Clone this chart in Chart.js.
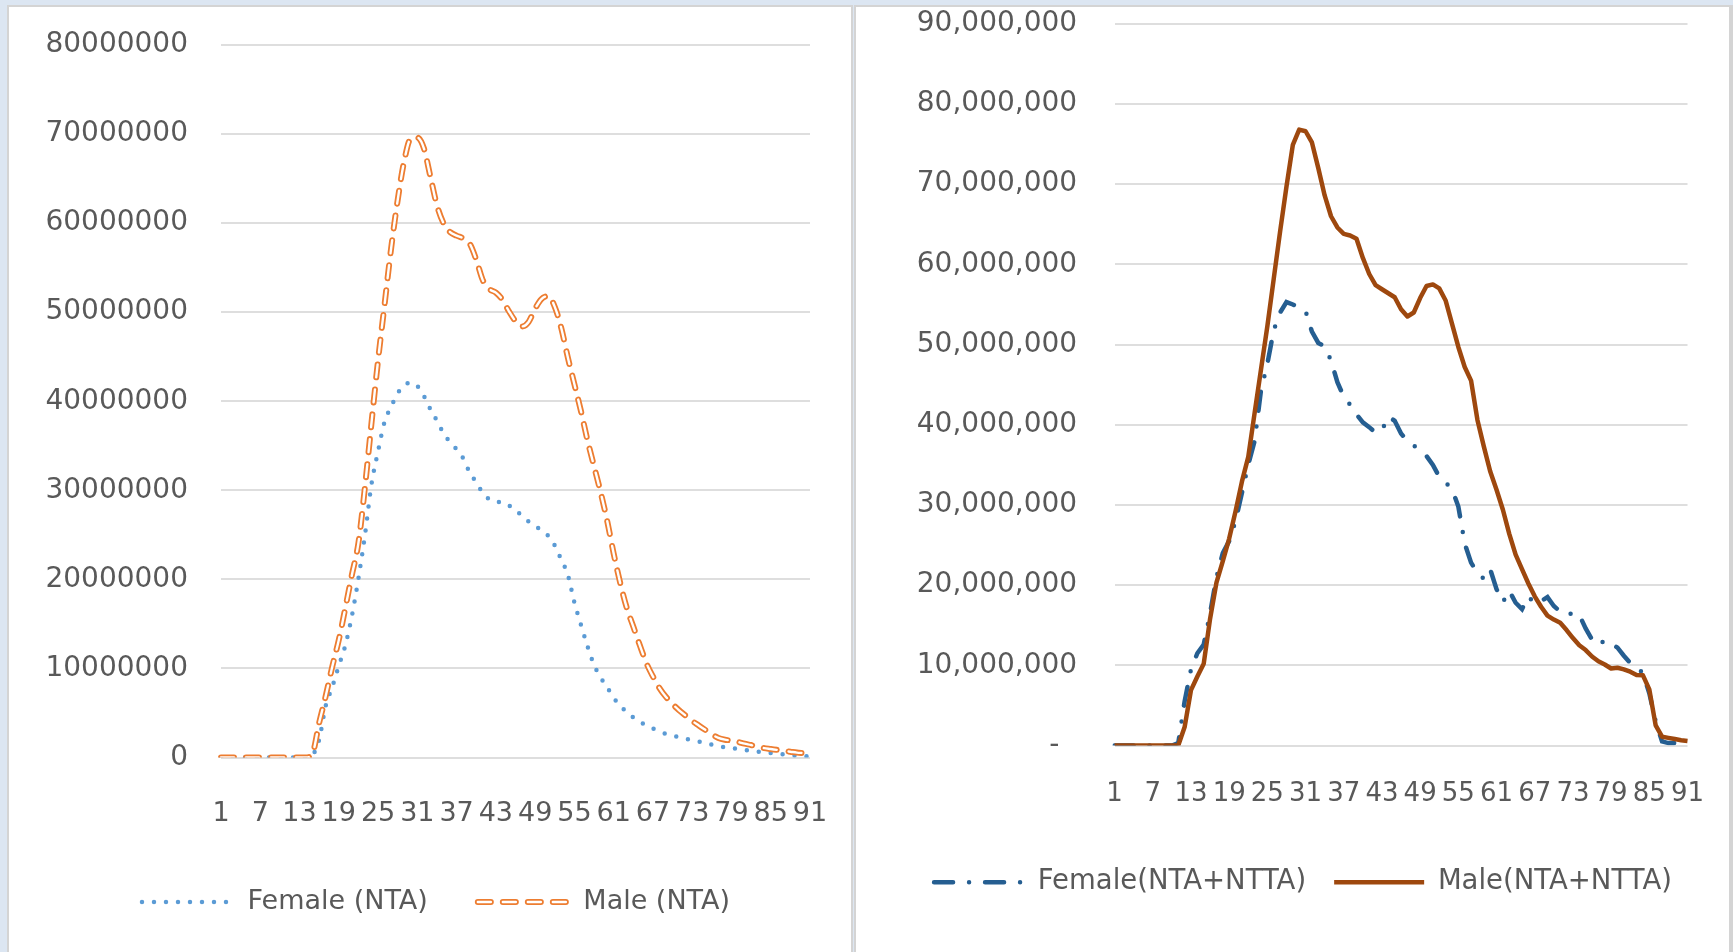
<!DOCTYPE html>
<html>
<head>
<meta charset="utf-8">
<script src="https://cdn.jsdelivr.net/npm/chart.js@4.4.1/dist/chart.umd.min.js"></script>
<style>
  html, body { margin: 0; padding: 0; width: 1733px; height: 952px; overflow: hidden; background: #dce6f2; }
  .panel { position: absolute; background: #ffffff; box-sizing: border-box; border: 2px solid #d4d4d4; border-bottom: none; }
  #panelLeft { left: 7px; top: 5px; width: 846px; height: 947px; }
  #panelRight { left: 854px; top: 5px; width: 879px; height: 947px; border-right-width: 4px; }
  canvas { position: absolute; }
  #chartLeft { left: 9px; top: 7px; }
  #chartRight { left: 856px; top: 7px; }
</style>
</head>
<body>
<div class="panel" id="panelLeft"></div>
<div class="panel" id="panelRight"></div>
<canvas id="chartLeft" width="841" height="945"></canvas>
<canvas id="chartRight" width="872" height="945"></canvas>
<script>
// Age categories 1..91
const ages = Array.from({ length: 91 }, (_, i) => String(i + 1));

// Values in millions, one per age
const femaleNTA = [
  0, 0, 0, 0, 0, 0, 0, 0, 0, 0, 0, 0, 0, 0, 0.3,
  2.0, 5.8, 7.9, 10.3, 12.6, 15.9, 20.1, 25.0, 30.7, 34.4,
  37.7, 39.4, 40.9, 41.8, 42.1, 41.7, 40.6, 39.1, 37.8, 36.4,
  35.4, 34.6, 33.6, 32.0, 30.9, 29.7, 29.0, 28.7, 28.7, 28.3,
  27.8, 27.1, 26.5, 26.0, 25.5, 24.9, 23.8, 22.2, 20.5, 17.4,
  14.9, 12.5, 10.4, 9.0, 7.9, 6.7, 5.8, 5.1, 4.5, 4.0,
  3.6, 3.25, 2.95, 2.65, 2.45, 2.3, 2.1, 1.95, 1.8, 1.6,
  1.45, 1.3, 1.15, 1.05, 0.95, 0.85, 0.75, 0.65, 0.6, 0.5,
  0.4, 0.35, 0.25, 0.2, 0.15, 0.1
];
const maleNTA = [
  0, 0, 0, 0, 0, 0, 0, 0, 0, 0, 0, 0, 0, 0, 0.5,
  3.9, 6.9, 10.2, 13.2, 16.8, 20.5, 24.1, 30.4, 37.6, 44.6,
  50.9, 57.2, 62.6, 67.0, 69.5, 69.6, 68.4, 65.2, 62.0, 60.0,
  59.0, 58.6, 58.3, 57.7, 55.9, 53.6, 52.6, 52.2, 51.4, 50.1,
  49.0, 48.4, 48.9, 50.4, 51.5, 51.8, 50.6, 48.2, 44.9, 41.9,
  38.9, 35.6, 32.7, 29.8, 26.6, 22.9, 19.6, 16.8, 14.7, 12.6,
  10.6, 9.1, 7.8, 6.8, 6.0, 5.3, 4.7, 4.1, 3.6, 3.1,
  2.6, 2.2, 2.0, 1.9, 1.75, 1.55, 1.4, 1.2, 1.05, 0.95,
  0.85, 0.75, 0.65, 0.55, 0.5, 0.45
];
const femaleTotal = [
  0, 0, 0, 0, 0, 0, 0, 0, 0, 0, 0.3, 5.5, 9.5, 11.5, 12.6,
  16.5, 21.0, 24.0, 25.5, 28.0, 31.5, 35.0, 38.0, 44.3, 47.6,
  51.8, 54.0, 55.3, 55.0, 54.6, 54.2, 51.6, 50.2, 49.8, 48.0,
  45.3, 43.5, 42.5, 41.3, 40.3, 39.7, 39.0, 39.3, 41.0, 40.5,
  38.9, 38.0, 37.4, 36.8, 36.1, 35.0, 33.5, 32.8, 32.0, 29.8,
  25.2, 22.8, 21.5, 20.8, 22.0, 19.5, 17.9, 19.3, 17.8, 17.0,
  18.6, 17.7, 18.0, 18.5, 17.4, 16.7, 16.8, 16.2, 16.3, 14.6,
  13.2, 12.5, 13.1, 12.7, 12.2, 11.2, 10.3, 9.8, 9.0, 6.5,
  3.0, 0.5, 0.3, 0.3, 0.3, 0.3
];
const maleTotal = [
  0, 0, 0, 0, 0, 0, 0, 0, 0, 0, 0, 2.3, 6.9, 8.6, 10.2,
  15.8, 20.3, 23.0, 25.8, 29.2, 32.9, 36.0, 41.5, 46.9, 52.3,
  58.2, 64.1, 69.7, 74.9, 76.8, 76.6, 75.2, 72.0, 68.6, 66.0,
  64.6, 63.8, 63.6, 63.2, 60.8, 58.8, 57.4, 56.9, 56.4, 55.9,
  54.4, 53.5, 54.0, 55.8, 57.3, 57.5, 57.0, 55.5, 52.6, 49.7,
  47.2, 45.5, 40.6, 37.3, 34.2, 31.9, 29.4, 26.4, 23.8, 22.0,
  20.2, 18.6, 17.3, 16.2, 15.7, 15.3, 14.4, 13.4, 12.5, 11.9,
  11.1, 10.5, 10.1, 9.6, 9.7, 9.5, 9.2, 8.8, 8.75, 7.0,
  2.5, 1.1, 0.95, 0.8, 0.65, 0.55
];

const MILLION = 1e6;
const toUnits = arr => arr.map(v => v * MILLION);

const TEXT = '#595959';
const GRID = '#dedede';
const CLEAR = 'rgba(0,0,0,0)';
Chart.defaults.font.family = "'DejaVu Sans', sans-serif";
Chart.defaults.color = TEXT;

// Every sixth age gets a label
const sparseAgeLabel = function (value, index) {
  return index % 6 === 0 ? this.getLabelForValue(value) : '';
};

// Category axis with a fixed gap between the plot and its labels
const ageAxis = (gap, size, height) => ({
  grid: { display: true, drawOnChartArea: false, drawTicks: true, tickLength: gap, tickColor: CLEAR },
  border: { display: false },
  ticks: {
    autoSkip: false, maxRotation: 0, minRotation: 0,
    padding: 0, font: { size }, color: TEXT,
    callback: sparseAgeLabel
  },
  afterFit: s => { s.height = height; }
});

// Legend entries in dataset order, each keeping its line's dash pattern
const lineLegendItems = chart => chart.data.datasets
  .map((ds, i) => ({
    text: ds.label,
    fontColor: TEXT,
    strokeStyle: ds.borderColor,
    fillStyle: ds.borderColor,
    lineWidth: ds.borderWidth,
    lineDash: ds.borderDash || [],
    lineCap: ds.borderCapStyle || 'butt',
    pointStyle: 'line',
    hidden: false,
    datasetIndex: i
  }))
  .filter(item => item.text);

// Moves the legend row sideways by a fixed offset
const legendShift = {
  id: 'legendShift',
  afterLayout(chart, args, opts) {
    if (chart.legend && opts.dx) {
      chart.legend.left += opts.dx;
      chart.legend.right += opts.dx;
    }
  }
};

// Paints the white core of the hollow dashed legend sample
const hollowLegendSample = {
  id: 'hollowLegendSample',
  afterDraw(chart, args, opts) {
    const legend = chart.legend;
    if (!legend || !legend.legendHitBoxes || !opts.items) return;
    const ctx = chart.ctx;
    const labels = legend.options.labels;
    const half = labels.font.size / 2;
    legend.legendItems.forEach((item, i) => {
      const core = opts.items[item.datasetIndex];
      if (!core) return;
      const box = legend.legendHitBoxes[i];
      const y = box.top + half;
      ctx.save();
      ctx.strokeStyle = core.color;
      ctx.lineWidth = core.width;
      ctx.lineCap = 'round';
      ctx.setLineDash(core.dash);
      ctx.beginPath();
      ctx.moveTo(box.left, y);
      ctx.lineTo(box.left + labels.pointStyleWidth, y);
      ctx.stroke();
      ctx.restore();
    });
  }
};

const ORANGE_DASH = [13, 12];

new Chart(document.getElementById('chartLeft'), {
  type: 'line',
  data: {
    labels: ages,
    datasets: [
      {
        label: 'Female (NTA)',
        data: toUnits(femaleNTA),
        borderColor: '#5b9bd5',
        borderWidth: 4.5,
        borderDash: [0, 12],
        borderCapStyle: 'round',
        pointRadius: 0,
        tension: 0.4,
        cubicInterpolationMode: 'monotone',
        order: 3
      },
      {
        label: 'Male (NTA)',
        data: toUnits(maleNTA),
        borderColor: '#ed7d31',
        borderWidth: 6,
        borderDash: ORANGE_DASH,
        borderCapStyle: 'round',
        pointRadius: 0,
        tension: 0.4,
        cubicInterpolationMode: 'monotone',
        order: 2
      },
      {
        label: '',
        data: toUnits(maleNTA),
        borderColor: '#ffffff',
        borderWidth: 2.4,
        borderDash: ORANGE_DASH,
        borderCapStyle: 'round',
        pointRadius: 0,
        tension: 0.4,
        cubicInterpolationMode: 'monotone',
        order: 1
      }
    ]
  },
  options: {
    responsive: false,
    animation: false,
    layout: { autoPadding: false, padding: { left: 0, right: 40, top: 38, bottom: 26.5 } },
    scales: {
      x: ageAxis(40, 27, 81),
      y: {
        min: 0, max: 80000000,
        grid: { color: GRID, lineWidth: 2, drawTicks: true, tickLength: 33, tickColor: CLEAR },
        border: { display: false },
        ticks: {
          stepSize: 10000000, padding: 0, font: { size: 28 }, color: TEXT,
          callback: v => String(v)
        },
        afterFit: s => { s.width = 212; }
      }
    },
    plugins: {
      legend: {
        position: 'bottom',
        labels: {
          usePointStyle: true, pointStyle: 'line', pointStyleWidth: 92,
          padding: 50, font: { size: 27 }, color: TEXT,
          generateLabels: lineLegendItems
        }
      },
      tooltip: { enabled: false },
      legendShift: { dx: 26.5 },
      hollowLegendSample: { items: { 1: { color: '#ffffff', width: 2.4, dash: ORANGE_DASH } } }
    }
  },
  plugins: [legendShift, hollowLegendSample]
});

new Chart(document.getElementById('chartRight'), {
  type: 'line',
  data: {
    labels: ages,
    datasets: [
      {
        label: 'Female(NTA+NTTA)',
        data: toUnits(femaleTotal),
        borderColor: '#255e91',
        borderWidth: 4.5,
        borderDash: [19, 16, 0, 16],
        borderCapStyle: 'round',
        pointRadius: 0,
        tension: 0,
        order: 2
      },
      {
        label: 'Male(NTA+NTTA)',
        data: toUnits(maleTotal),
        borderColor: '#9e480e',
        borderWidth: 4.5,
        borderJoinStyle: 'round',
        pointRadius: 0,
        tension: 0,
        order: 1
      }
    ]
  },
  options: {
    responsive: false,
    animation: false,
    layout: { autoPadding: false, padding: { left: 0, right: 40.5, top: 16.5, bottom: 46 } },
    scales: {
      x: ageAxis(33, 26, 95),
      y: {
        min: 0, max: 90000000,
        grid: { color: GRID, lineWidth: 2, drawTicks: true, tickLength: 37.5, tickColor: CLEAR },
        border: { display: false },
        ticks: {
          stepSize: 10000000, padding: 0, font: { size: 28 }, color: TEXT,
          callback: v => (v === 0 ? '-  ' : v.toLocaleString('en-US'))
        },
        afterFit: s => { s.width = 258.6; }
      }
    },
    plugins: {
      legend: {
        position: 'bottom',
        labels: {
          usePointStyle: true, pointStyle: 'line', pointStyleWidth: 90,
          padding: 28, font: { size: 27.5 }, color: TEXT,
          generateLabels: lineLegendItems
        }
      },
      tooltip: { enabled: false },
      legendShift: { dx: 31.25 }
    }
  },
  plugins: [legendShift]
});
</script>
</body>
</html>
